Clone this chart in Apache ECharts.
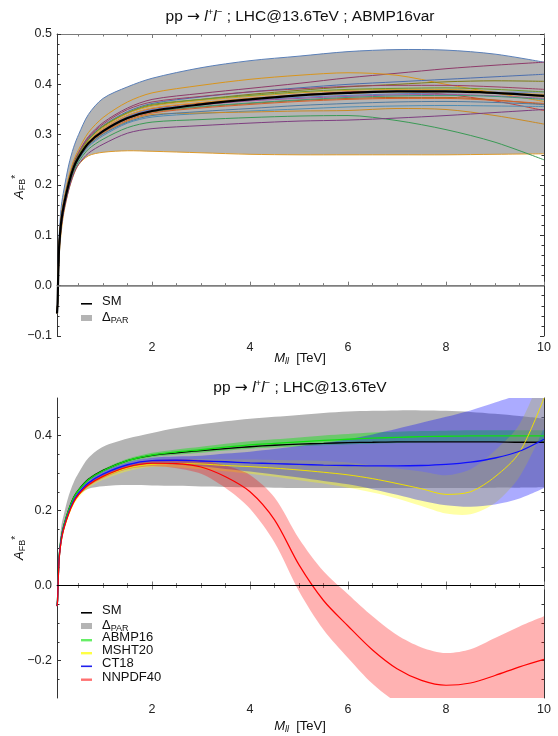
<!DOCTYPE html>
<html><head><meta charset="utf-8">
<script src="https://cdn.jsdelivr.net/npm/echarts@6/dist/echarts.min.js"></script>
<style>html,body{margin:0;padding:0;background:#fff}#c{width:558px;height:736px}</style>
</head><body><div id="c"></div><script>
// ---------------- TOP PANEL DATA (ABMP16var) ----------------
const XT = [0.06, 0.07, 0.08, 0.1, 0.12, 0.15, 0.2, 0.3, 0.4, 0.5, 0.7, 1, 1.5, 2, 3, 4, 5, 6, 7, 8, 9, 10];
const SM_T = [-0.055, -0.04, 0.0, 0.07, 0.1, 0.13, 0.16, 0.203, 0.235, 0.255, 0.283, 0.307, 0.333, 0.347, 0.36, 0.37, 0.378, 0.383, 0.386, 0.386, 0.383, 0.377];
const PAR_HI_T = [-0.055, -0.03, 0.02, 0.09, 0.125, 0.16, 0.19, 0.24, 0.275, 0.30, 0.34, 0.372, 0.395, 0.412, 0.433, 0.447, 0.456, 0.465, 0.469, 0.468, 0.46, 0.444];
const PAR_LO_T = [-0.055, -0.045, -0.01, 0.05, 0.08, 0.11, 0.145, 0.19, 0.22, 0.24, 0.258, 0.265, 0.268, 0.267, 0.264, 0.261, 0.26, 0.26, 0.26, 0.26, 0.261, 0.262];
const VAR_T = [
  [-0.055, -0.038, 0.005, 0.076, 0.107, 0.138, 0.167, 0.211, 0.244, 0.265, 0.296, 0.324, 0.353, 0.370, 0.382, 0.392, 0.402, 0.413, 0.422, 0.431, 0.438, 0.444],
  [-0.055, -0.036, 0.008, 0.08, 0.111, 0.143, 0.171, 0.216, 0.249, 0.27, 0.304, 0.334, 0.365, 0.383, 0.398, 0.41, 0.418, 0.423, 0.418, 0.40, 0.383, 0.366],
  [-0.055, -0.038, 0.003, 0.074, 0.105, 0.135, 0.165, 0.208, 0.241, 0.261, 0.292, 0.318, 0.346, 0.362, 0.375, 0.385, 0.393, 0.40, 0.405, 0.41, 0.415, 0.42],
  [-0.055, -0.039, 0.002, 0.073, 0.104, 0.134, 0.164, 0.207, 0.239, 0.26, 0.29, 0.316, 0.343, 0.358, 0.37, 0.38, 0.388, 0.395, 0.40, 0.405, 0.407, 0.406],
  [-0.055, -0.039, 0.001, 0.072, 0.102, 0.132, 0.162, 0.205, 0.237, 0.257, 0.286, 0.311, 0.338, 0.352, 0.363, 0.372, 0.379, 0.385, 0.386, 0.38, 0.367, 0.348],
  [-0.055, -0.041, -0.002, 0.067, 0.096, 0.126, 0.156, 0.199, 0.231, 0.25, 0.276, 0.298, 0.323, 0.335, 0.342, 0.347, 0.351, 0.355, 0.357, 0.358, 0.357, 0.356],
  [-0.055, -0.041, -0.002, 0.068, 0.098, 0.128, 0.158, 0.201, 0.232, 0.252, 0.279, 0.302, 0.327, 0.34, 0.343, 0.345, 0.347, 0.348, 0.352, 0.35, 0.338, 0.321],
  [-0.055, -0.042, -0.005, 0.064, 0.093, 0.123, 0.153, 0.196, 0.227, 0.246, 0.271, 0.291, 0.314, 0.325, 0.33, 0.334, 0.337, 0.338, 0.328, 0.31, 0.285, 0.25],
  [-0.055, -0.044, -0.007, 0.06, 0.089, 0.118, 0.149, 0.191, 0.222, 0.241, 0.263, 0.281, 0.303, 0.312, 0.318, 0.323, 0.327, 0.329, 0.333, 0.338, 0.344, 0.35],
  [-0.055, -0.04, 0.0, 0.07, 0.1, 0.129, 0.16, 0.202, 0.234, 0.254, 0.282, 0.306, 0.332, 0.345, 0.355, 0.362, 0.368, 0.372, 0.374, 0.374, 0.369, 0.36],
  [-0.055, -0.04, 0.001, 0.071, 0.101, 0.131, 0.161, 0.204, 0.236, 0.256, 0.285, 0.309, 0.336, 0.35, 0.36, 0.368, 0.374, 0.378, 0.381, 0.383, 0.384, 0.385],
  [-0.055, -0.038, 0.004, 0.075, 0.106, 0.137, 0.166, 0.21, 0.242, 0.263, 0.294, 0.321, 0.35, 0.365, 0.376, 0.385, 0.391, 0.396, 0.398, 0.398, 0.395, 0.39],
  [-0.055, -0.039, 0.002, 0.073, 0.103, 0.134, 0.163, 0.207, 0.239, 0.259, 0.289, 0.314, 0.342, 0.357, 0.368, 0.376, 0.383, 0.388, 0.39, 0.39, 0.384, 0.375],
  [-0.055, -0.04, -0.001, 0.069, 0.099, 0.128, 0.159, 0.202, 0.233, 0.253, 0.281, 0.304, 0.329, 0.343, 0.353, 0.36, 0.366, 0.37, 0.372, 0.372, 0.368, 0.362],
  [-0.055, -0.039, 0.003, 0.074, 0.104, 0.134, 0.164, 0.208, 0.24, 0.26, 0.29, 0.317, 0.344, 0.36, 0.37, 0.378, 0.385, 0.39, 0.392, 0.393, 0.39, 0.385],
  [-0.055, -0.041, -0.002, 0.068, 0.097, 0.127, 0.157, 0.2, 0.232, 0.251, 0.278, 0.301, 0.325, 0.338, 0.346, 0.352, 0.358, 0.362, 0.365, 0.366, 0.364, 0.36],
  [-0.055, -0.04, 0.0, 0.07, 0.1, 0.131, 0.16, 0.204, 0.236, 0.256, 0.284, 0.308, 0.334, 0.348, 0.359, 0.367, 0.372, 0.376, 0.379, 0.38, 0.377, 0.372],
  [-0.055, -0.039, 0.001, 0.072, 0.102, 0.132, 0.162, 0.205, 0.237, 0.257, 0.286, 0.311, 0.338, 0.353, 0.364, 0.372, 0.378, 0.382, 0.385, 0.385, 0.383, 0.38],
  [-0.055, -0.04, 0.0, 0.07, 0.1, 0.13, 0.16, 0.203, 0.235, 0.255, 0.283, 0.306, 0.332, 0.346, 0.356, 0.363, 0.369, 0.374, 0.377, 0.378, 0.376, 0.37]
];
const VAR_COLORS = ['#8e3b6a','#d9951c','#4c6fae','#7f7d14','#c5443a','#4f8db5','#c98a25','#3a9a55','#7d3d80','#b5651d','#5b7fc0','#9b4064','#d8a22a','#d4622f','#6f9a2c','#4f7aa0','#a0569c','#e0a035','#3f9b7a'];

// ---------------- BOTTOM PANEL DATA (PDF comparison) ----------------
const XB = [0.06, 0.07, 0.08, 0.1, 0.12, 0.15, 0.2, 0.3, 0.4, 0.5, 0.7, 1, 1.5, 2, 2.5, 3, 3.5, 4, 4.5, 5, 5.5, 6, 6.5, 7, 7.5, 8, 8.5, 9, 9.5, 10];
const SM_B = [-0.055, -0.04, 0.0, 0.07, 0.1, 0.13, 0.16, 0.203, 0.235, 0.255, 0.283, 0.307, 0.333, 0.347, 0.354, 0.36, 0.365, 0.37, 0.374, 0.377, 0.379, 0.381, 0.382, 0.383, 0.383, 0.383, 0.383, 0.383, 0.382, 0.382];
const PAR_HI_B = [-0.055, -0.03, 0.02, 0.09, 0.125, 0.16, 0.19, 0.24, 0.275, 0.30, 0.34, 0.37, 0.392, 0.407, 0.42, 0.43, 0.438, 0.445, 0.45, 0.455, 0.46, 0.464, 0.466, 0.467, 0.467, 0.466, 0.463, 0.458, 0.452, 0.445];
const PAR_LO_B = [-0.055, -0.045, -0.01, 0.05, 0.08, 0.11, 0.145, 0.19, 0.22, 0.24, 0.258, 0.265, 0.268, 0.267, 0.266, 0.264, 0.263, 0.262, 0.261, 0.26, 0.26, 0.26, 0.26, 0.26, 0.26, 0.26, 0.26, 0.261, 0.261, 0.262];
const ABMP = [-0.055, -0.04, 0.0, 0.07, 0.1, 0.13, 0.16, 0.202, 0.234, 0.254, 0.282, 0.306, 0.333, 0.348, 0.356, 0.362, 0.369, 0.375, 0.379, 0.383, 0.387, 0.39, 0.393, 0.395, 0.397, 0.398, 0.399, 0.399, 0.399, 0.399];
const ABMP_LO = [-0.055, -0.04, 0.0, 0.069, 0.099, 0.128, 0.158, 0.199, 0.231, 0.251, 0.278, 0.302, 0.328, 0.342, 0.349, 0.354, 0.36, 0.365, 0.368, 0.371, 0.374, 0.376, 0.378, 0.38, 0.382, 0.383, 0.384, 0.384, 0.384, 0.384];
const ABMP_HI = [-0.055, -0.04, 0.0, 0.071, 0.101, 0.132, 0.162, 0.205, 0.237, 0.257, 0.286, 0.31, 0.338, 0.354, 0.363, 0.37, 0.378, 0.385, 0.39, 0.395, 0.40, 0.404, 0.408, 0.41, 0.412, 0.413, 0.414, 0.414, 0.414, 0.414];
const MSHT = [-0.055, -0.045, -0.01, 0.06, 0.09, 0.12, 0.15, 0.19, 0.22, 0.24, 0.267, 0.29, 0.313, 0.323, 0.325, 0.324, 0.32, 0.317, 0.313, 0.308, 0.302, 0.295, 0.285, 0.272, 0.258, 0.243, 0.25, 0.29, 0.355, 0.5];
const MSHT_LO = [-0.055, -0.045, -0.011, 0.058, 0.087, 0.116, 0.146, 0.185, 0.215, 0.234, 0.26, 0.282, 0.305, 0.316, 0.315, 0.31, 0.305, 0.298, 0.29, 0.281, 0.272, 0.261, 0.248, 0.232, 0.212, 0.192, 0.19, 0.22, 0.29, 0.42];
const MSHT_HI = [-0.055, -0.045, -0.009, 0.062, 0.093, 0.124, 0.154, 0.195, 0.225, 0.246, 0.274, 0.298, 0.321, 0.332, 0.335, 0.337, 0.336, 0.336, 0.335, 0.334, 0.332, 0.328, 0.321, 0.312, 0.304, 0.294, 0.31, 0.36, 0.43, 0.58];
const CT18 = [-0.055, -0.043, -0.005, 0.065, 0.095, 0.125, 0.155, 0.195, 0.226, 0.246, 0.273, 0.297, 0.322, 0.333, 0.334, 0.332, 0.33, 0.327, 0.325, 0.323, 0.321, 0.32, 0.319, 0.319, 0.32, 0.323, 0.329, 0.34, 0.358, 0.39];
const CT18_LO = [-0.055, -0.043, -0.006, 0.063, 0.093, 0.122, 0.152, 0.191, 0.222, 0.241, 0.267, 0.29, 0.315, 0.325, 0.322, 0.318, 0.311, 0.304, 0.296, 0.288, 0.279, 0.27, 0.257, 0.242, 0.226, 0.214, 0.21, 0.216, 0.232, 0.26];
const CT18_HI = [-0.055, -0.043, -0.004, 0.067, 0.097, 0.128, 0.158, 0.199, 0.23, 0.251, 0.279, 0.304, 0.329, 0.341, 0.344, 0.346, 0.352, 0.357, 0.364, 0.372, 0.38, 0.39, 0.403, 0.418, 0.434, 0.45, 0.467, 0.488, 0.51, 0.54];
const NNPDF = [-0.055, -0.045, -0.008, 0.062, 0.092, 0.122, 0.152, 0.192, 0.222, 0.242, 0.268, 0.291, 0.316, 0.326, 0.325, 0.316, 0.29, 0.25, 0.175, 0.055, -0.04, -0.108, -0.172, -0.222, -0.253, -0.266, -0.26, -0.24, -0.217, -0.197];
const NNPDF_LO = [-0.055, -0.045, -0.009, 0.061, 0.091, 0.12, 0.15, 0.189, 0.219, 0.239, 0.264, 0.286, 0.31, 0.318, 0.313, 0.298, 0.26, 0.205, 0.115, -0.015, -0.118, -0.193, -0.262, -0.312, -0.341, -0.352, -0.35, -0.34, -0.325, -0.312];
const NNPDF_HI = [-0.055, -0.045, -0.007, 0.063, 0.093, 0.124, 0.154, 0.195, 0.225, 0.245, 0.272, 0.296, 0.322, 0.334, 0.337, 0.334, 0.32, 0.295, 0.235, 0.125, 0.038, -0.023, -0.082, -0.132, -0.165, -0.18, -0.17, -0.14, -0.109, -0.082];

// tick values
const X_MAJOR = [2, 4, 6, 8, 10];
const X_MINOR = [0.5, 1, 1.5, 2.5, 3, 3.5, 4.5, 5, 5.5, 6.5, 7, 7.5, 8.5, 9, 9.5];
const YB_MAJOR = [-0.2, 0, 0.2, 0.4];
const YB_MINOR = [-0.25, -0.15, -0.1, -0.05, 0.05, 0.1, 0.15, 0.25, 0.3, 0.35, 0.45];

// ---------------- BUILD ----------------
const FONT = '"Liberation Sans", Arial, Helvetica, sans-serif';
const chart = echarts.init(document.getElementById('c'), null, {renderer: 'canvas'});
const pts = (xs, ys) => xs.map((x, i) => [x, ys[i]]);
const SMOOTH = 0.3;

function lineS(name, xs, ys, color, width, xi, yi) {
  return {name, type: 'line', xAxisIndex: xi, yAxisIndex: yi, data: pts(xs, ys), showSymbol: false, symbol: 'none',
    smooth: SMOOTH, silent: true, clip: true, lineStyle: {color, width}, emphasis: {disabled: true}};
}
// smooth bezier path through pixel points (same construction as echarts line smoothing)
function smoothCmds(P, first) {
  const n = P.length, cps = [];
  for (let i = 0; i < n; i++) {
    const cur = P[i], prev = P[Math.max(0, i - 1)], next = P[Math.min(n - 1, i + 1)];
    const vx = next[0] - prev[0], vy = next[1] - prev[1];
    const lp = Math.hypot(cur[0] - prev[0], cur[1] - prev[1]), ln = Math.hypot(next[0] - cur[0], next[1] - cur[1]);
    const r = (lp + ln) > 0 ? ln / (lp + ln) : 0.5;
    const out = (i === 0 || i === n - 1) ? cur : [cur[0] + vx * SMOOTH * r, cur[1] + vy * SMOOTH * r];
    const inn = (i === 0 || i === n - 1) ? cur : [cur[0] - vx * SMOOTH * (1 - r), cur[1] - vy * SMOOTH * (1 - r)];
    cps.push({out, inn});
  }
  let s = (first ? 'M' : 'L') + P[0][0].toFixed(2) + ' ' + P[0][1].toFixed(2);
  for (let i = 1; i < n; i++) {
    const a = cps[i - 1].out, b = cps[i].inn;
    s += ' C' + a[0].toFixed(2) + ' ' + a[1].toFixed(2) + ' ' + b[0].toFixed(2) + ' ' + b[1].toFixed(2) + ' ' + P[i][0].toFixed(2) + ' ' + P[i][1].toFixed(2);
  }
  return s;
}
function bandC(name, xs, lo, hi, color, xi, yi, edges) {
  const data = xs.map((x, i) => [x, lo[i], hi[i]]);
  return {name, type: 'custom', xAxisIndex: xi, yAxisIndex: yi, data, silent: true,
    encode: {x: 0, y: [1, 2]},
    renderItem: (params, api) => {
      if (params.dataIndex !== 0) return null;
      const up = data.map(d => api.coord([d[0], d[2]]));
      const dn = data.map(d => api.coord([d[0], d[1]])).reverse();
      const cs = params.coordSys;
      const children = [{type: 'path', shape: {pathData: smoothCmds(up, true) + ' ' + smoothCmds(dn, false) + ' Z'}, style: {fill: color, stroke: null}}];
      if (edges) {
        children.push({type: 'path', shape: {pathData: smoothCmds(up, true)}, style: {fill: null, stroke: edges[0], lineWidth: 1}});
        children.push({type: 'path', shape: {pathData: smoothCmds(dn, true)}, style: {fill: null, stroke: edges[1], lineWidth: 1}});
      }
      return {type: 'group', children, clipPath: {type: 'rect', shape: {x: cs.x, y: cs.y, width: cs.width, height: cs.height}}};
    }};
}
const fmt1 = v => { const r = Math.round(v * 10) / 10; return (r < 0 ? '\u2212' : '') + Math.abs(r).toFixed(1); };
const FRAME_H = '#7a7a7a', FRAME_V = '#333';

function xAxes(gi) {
  const base = {type: 'value', gridIndex: gi, min: 0.06, max: 10, splitLine: {show: false}};
  return [
    Object.assign({}, base, {position: 'bottom', axisLine: {show: true, lineStyle: {color: FRAME_H, width: 1}},
      axisTick: {show: true, inside: true, length: 4, customValues: X_MAJOR, lineStyle: {color: FRAME_H}},
      axisLabel: {show: true, customValues: X_MAJOR, formatter: v => String(Math.round(v)), color: '#222', fontSize: 12.5, fontFamily: FONT, margin: 5}}),
    Object.assign({}, base, {position: 'bottom', axisLine: {show: false},
      axisTick: {show: true, inside: true, length: 2.5, customValues: X_MINOR, lineStyle: {color: FRAME_H}}, axisLabel: {show: false}}),
    Object.assign({}, base, {position: 'top', axisLine: {show: true, lineStyle: {color: FRAME_H, width: 1}},
      axisTick: {show: true, inside: true, length: 4, customValues: X_MAJOR, lineStyle: {color: FRAME_H}}, axisLabel: {show: false}}),
    Object.assign({}, base, {position: 'top', axisLine: {show: false},
      axisTick: {show: true, inside: true, length: 2.5, customValues: X_MINOR, lineStyle: {color: FRAME_H}}, axisLabel: {show: false}})
  ];
}

const yAxes = [
  {type: 'value', gridIndex: 0, position: 'left', min: -0.1, max: 0.5, interval: 0.1, splitLine: {show: false},
    axisLine: {show: true, lineStyle: {color: FRAME_V}}, axisTick: {show: true, inside: true, length: 4, lineStyle: {color: FRAME_V}},
    minorTick: {show: true, splitNumber: 5, length: 2.5, lineStyle: {color: FRAME_V}},
    axisLabel: {formatter: fmt1, color: '#222', fontSize: 12.5, fontFamily: FONT, margin: 5}},
  {type: 'value', gridIndex: 0, position: 'right', min: -0.1, max: 0.5, interval: 0.1, splitLine: {show: false},
    axisLine: {show: true, lineStyle: {color: FRAME_V}}, axisTick: {show: true, inside: true, length: 4, lineStyle: {color: FRAME_V}},
    minorTick: {show: true, splitNumber: 5, length: 2.5, lineStyle: {color: FRAME_V}}, axisLabel: {show: false}},
  {type: 'value', gridIndex: 1, position: 'left', min: -0.3, max: 0.5, splitLine: {show: false},
    axisLine: {show: true, lineStyle: {color: FRAME_V}}, axisTick: {show: true, inside: true, length: 4, customValues: YB_MAJOR, lineStyle: {color: FRAME_V}},
    axisLabel: {customValues: YB_MAJOR, formatter: fmt1, color: '#222', fontSize: 12.5, fontFamily: FONT, margin: 5}},
  {type: 'value', gridIndex: 1, position: 'left', min: -0.3, max: 0.5, splitLine: {show: false}, axisLine: {show: false},
    axisTick: {show: true, inside: true, length: 2.5, customValues: YB_MINOR, lineStyle: {color: FRAME_V}}, axisLabel: {show: false}},
  {type: 'value', gridIndex: 1, position: 'right', min: -0.3, max: 0.5, splitLine: {show: false},
    axisLine: {show: true, lineStyle: {color: FRAME_V}}, axisTick: {show: true, inside: true, length: 4, customValues: YB_MAJOR, lineStyle: {color: FRAME_V}}, axisLabel: {show: false}},
  {type: 'value', gridIndex: 1, position: 'right', min: -0.3, max: 0.5, splitLine: {show: false}, axisLine: {show: false},
    axisTick: {show: true, inside: true, length: 2.5, customValues: YB_MINOR, lineStyle: {color: FRAME_V}}, axisLabel: {show: false}}
];

const series = [];
// top panel
series.push(bandC('ΔPAR top', XT, PAR_LO_T, PAR_HI_T, '#b4b4b4', 0, 0, ['#5b80b8', '#dd9a2a']));
VAR_T.forEach((v, k) => series.push(lineS('var' + k, XT, v, VAR_COLORS[k], 1, 0, 0)));
const smTop = lineS('SM top', XT, SM_T, '#000', 2.2, 0, 0);
smTop.markLine = {silent: true, symbol: ['none', 'none'], label: {show: false}, animation: false,
  lineStyle: {color: '#808080', width: 1.5, type: 'solid'}, data: [{yAxis: 0}]};
series.push(smTop);
// bottom panel
series.push(bandC('ΔPAR', XB, PAR_LO_B, PAR_HI_B, '#b4b4b4', 4, 2));
const smBot = lineS('SM', XB, SM_B, '#000', 1.3, 4, 2);
smBot.markLine = {silent: true, symbol: ['none', 'none'], label: {show: false}, animation: false,
  lineStyle: {color: '#000', width: 1, type: 'solid'}, data: [{yAxis: 0}]};
series.push(smBot);
series.push(bandC('ABMP16 band', XB, ABMP_LO, ABMP_HI, 'rgba(0,230,0,0.4)', 4, 2));
series.push(lineS('ABMP16', XB, ABMP, '#10e010', 1.3, 4, 2));
series.push(bandC('MSHT20 band', XB, MSHT_LO, MSHT_HI, 'rgba(255,255,0,0.35)', 4, 2));
series.push(lineS('MSHT20', XB, MSHT, '#f0e000', 1, 4, 2));
series.push(bandC('CT18 band', XB, CT18_LO, CT18_HI, 'rgba(0,0,255,0.33)', 4, 2));
series.push(lineS('CT18', XB, CT18, '#1010ff', 1.3, 4, 2));
series.push(bandC('NNPDF40 band', XB, NNPDF_LO, NNPDF_HI, 'rgba(255,0,0,0.3)', 4, 2));
series.push(lineS('NNPDF40', XB, NNPDF, '#ff0000', 1.2, 4, 2));

// text helpers
const RICH = {
  n: {fontSize: 15.5, fontFamily: FONT, fill: '#111', lineHeight: 19, verticalAlign: 'middle'},
  ar: {fontSize: 15.5, fontFamily: '"DejaVu Sans", sans-serif', fill: '#111', lineHeight: 19, verticalAlign: 'middle'},
  i: {fontSize: 15.5, fontFamily: FONT, fontStyle: 'italic', fill: '#111', lineHeight: 19, verticalAlign: 'middle'},
  sup: {fontSize: 9.5, fontFamily: FONT, fill: '#111', lineHeight: 9, verticalAlign: 'top'},
  ln: {fontSize: 13, fontFamily: FONT, fill: '#111', lineHeight: 16, verticalAlign: 'middle'},
  li: {fontSize: 13, fontFamily: FONT, fontStyle: 'italic', fill: '#111', lineHeight: 16, verticalAlign: 'middle'},
  lsub: {fontSize: 9, fontFamily: FONT, fill: '#111', lineHeight: 8, verticalAlign: 'bottom'},
  lisub: {fontSize: 9, fontFamily: FONT, fontStyle: 'italic', fill: '#111', lineHeight: 8, verticalAlign: 'bottom'},
  lsup: {fontSize: 10, fontFamily: FONT, fill: '#111', lineHeight: 8, verticalAlign: 'top'}
};
const txt = (x, y, text, extra) => Object.assign({type: 'text', x, y, silent: true,
  style: {text, rich: RICH, align: 'center', verticalAlign: 'middle', fill: '#111'}}, extra || {});
const TITLE_T = '{n|pp }{ar|→}{n| }{i|l}{sup|+}{i|l}{sup|−}{n| ; LHC@13.6TeV ; ABMP16var}';
const TITLE_B = '{n|pp }{ar|→}{n| }{i|l}{sup|+}{i|l}{sup|−}{n| ; LHC@13.6TeV}';
const XNAME = '{li|M}{lisub|ll}{ln|  [TeV]}';
const YNAME = '{li|A}{lsub|FB}{lsup|*}';

const legendItem = (x, y, label, kind, color) => {
  const els = [];
  if (kind === 'line') els.push({type: 'rect', silent: true, shape: {x: x, y: y + 2, width: 11, height: 1.6}, style: {fill: color}});
  else if (kind === 'thick') els.push({type: 'rect', silent: true, shape: {x: x, y: y + 1.5, width: 11, height: 2.4}, style: {fill: color}});
  else els.push({type: 'rect', silent: true, shape: {x: x, y: y - 2, width: 11, height: 6}, style: {fill: color}});
  els.push({type: 'text', x: x + 21, y: y, silent: true, style: {text: label, rich: RICH, align: 'left', verticalAlign: 'middle', fill: '#111'}});
  return els;
};
const DPAR = '{ln|Δ}{lsub|PAR}';

const graphic = [
  txt(300, 17, TITLE_T),
  txt(300, 388, TITLE_B),
  txt(300, 358, XNAME),
  txt(300, 726, XNAME),
  txt(19, 187, YNAME, {rotation: Math.PI / 2}),
  txt(19, 548, YNAME, {rotation: Math.PI / 2}),
  ...legendItem(81, 301, '{ln|SM}', 'line', '#000'),
  ...legendItem(81, 317, DPAR, 'box', '#b4b4b4'),
  ...legendItem(81, 610, '{ln|SM}', 'line', '#000'),
  ...legendItem(81, 625, DPAR, 'box', '#b4b4b4'),
  ...legendItem(81, 637.5, '{ln|ABMP16}', 'thick', '#66ee66'),
  ...legendItem(81, 650.5, '{ln|MSHT20}', 'thick', '#ffff44'),
  ...legendItem(81, 663.5, '{ln|CT18}', 'line', '#2020ee'),
  ...legendItem(81, 677, '{ln|NNPDF40}', 'thick', '#ff7070')
];

chart.setOption({
  animation: false,
  backgroundColor: '#fff',
  textStyle: {fontFamily: FONT},
  grid: [
    {left: 57, top: 34, width: 487, height: 302, containLabel: false},
    {left: 57, top: 398, width: 487, height: 300, containLabel: false}
  ],
  xAxis: [...xAxes(0), ...xAxes(1)],
  yAxis: yAxes,
  legend: {show: false},
  tooltip: {show: false},
  series,
  graphic
});
</script></body></html>
